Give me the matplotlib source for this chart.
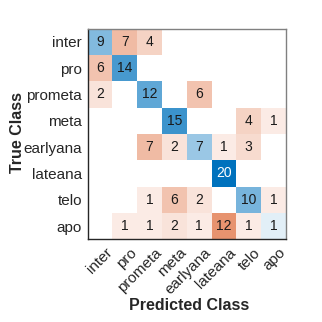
import matplotlib
matplotlib.use("Agg")
import matplotlib.pyplot as plt
import matplotlib.transforms as mtransforms
import numpy as np
from matplotlib.colors import LinearSegmentedColormap

plt.rcParams["font.family"] = ["Liberation Sans", "DejaVu Sans"]

classes = ["inter", "pro", "prometa", "meta", "earlyana", "lateana", "telo", "apo"]

# rows = true class, columns = predicted class
counts = np.array([
    [9, 7, 4, 0, 0, 0, 0, 0],
    [6, 14, 0, 0, 0, 0, 0, 0],
    [2, 0, 12, 0, 6, 0, 0, 0],
    [0, 0, 0, 15, 0, 0, 4, 1],
    [0, 0, 7, 2, 7, 1, 3, 0],
    [0, 0, 0, 0, 0, 20, 0, 0],
    [0, 0, 1, 6, 2, 0, 10, 1],
    [0, 1, 1, 2, 1, 12, 1, 1],
])

n = len(classes)
vmax = counts.max()
diag = np.eye(n, dtype=bool)

blues = LinearSegmentedColormap.from_list("mblue", ["#ffffff", "#0072bd"])
oranges = LinearSegmentedColormap.from_list("morange", ["#ffffff", "#d95319"])
# small counts still get a visible tint, like confusionchart
vmin = -1.5

fig = plt.figure(figsize=(3.22, 3.22), dpi=100)
ax = fig.add_axes([0.272, 0.257, 0.616, 0.654])

edges = np.arange(n + 1) - 0.5
on_diag = np.ma.masked_where(~diag | (counts == 0), counts)
off_diag = np.ma.masked_where(diag | (counts == 0), counts)
ax.pcolormesh(edges, edges, on_diag, cmap=blues, vmin=vmin, vmax=vmax)
ax.pcolormesh(edges, edges, off_diag, cmap=oranges, vmin=vmin, vmax=vmax)

for i in range(n):
    for j in range(n):
        v = counts[i, j]
        if v == 0:
            continue
        col = "white" if v / vmax > 0.9 else "#1a1a1a"
        ax.text(j, i, str(v), ha="center", va="center", fontsize=10, color=col)

ax.set_xlim(-0.5, n - 0.5)
ax.set_ylim(n - 0.5, -0.5)
ax.set_xticks(range(n))
ax.set_yticks(range(n))
ax.set_xticklabels(classes, rotation=45, ha="right", va="top",
                   rotation_mode="anchor", fontsize=11, color="#262626")
ax.set_yticklabels(classes, fontsize=11, color="#262626")
ax.tick_params(length=0)
ax.tick_params(axis="y", pad=4)
ax.tick_params(axis="x", pad=3)
shift = mtransforms.ScaledTranslation(5 / 100, -2 / 100, fig.dpi_scale_trans)
for lab in ax.get_xticklabels():
    lab.set_transform(lab.get_transform() + shift)

for side in ("left", "bottom"):
    ax.spines[side].set_color("#262626")
for side in ("top", "right"):
    ax.spines[side].set_color("#808080")
for s in ax.spines.values():
    s.set_linewidth(1.0)

fig.text(0.588, 0.050, "Predicted Class", ha="center", va="center",
         fontsize=11.5, fontweight="bold", color="#262626")
fig.text(0.053, 0.587, "True Class", ha="center", va="center", rotation=90,
         fontsize=11.5, fontweight="bold", color="#262626")

fig.savefig("out.png", dpi=100)
